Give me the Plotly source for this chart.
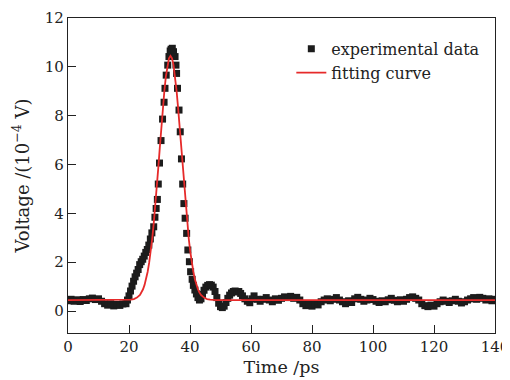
import plotly.graph_objects as go

# experimental data (time in ps, voltage in 1e-4 V)
exp_t = [0, 1, 2, 3, 4, 5, 6, 7, 8, 9, 10, 11, 12, 13, 14, 15, 16, 17, 18, 19,
         19.5, 20, 20.5, 21, 21.5, 22, 22.5, 23, 23.5, 24, 24.5, 25, 25.5, 26, 26.5, 27, 27.5,
         28.1, 28.5, 28.9, 29.3, 29.6, 30.0, 30.5, 31.0, 31.5, 31.8, 32.2, 32.7, 33.1, 33.5, 33.8,
         34.2, 34.6, 35.1, 35.4, 35.6, 35.9, 36.4, 36.8, 37.2, 37.6, 38.0, 38.4, 38.9, 39.3, 39.8,
         40.2, 40.7, 41.1, 41.6, 42.1, 42.6, 43.1, 43.6, 44.1, 44.6, 45.2, 45.8, 46.4, 47.0, 47.6,
         48.2, 48.8, 49.4, 50.0, 50.6, 51.2, 51.8, 52.4, 53.0, 53.6, 54.2, 54.8, 55.4, 56.0, 56.6,
         57.2, 58.0, 58.8, 59.6, 60.4, 61, 62,
         63, 64, 65, 66, 67, 68, 69, 70, 71, 72, 73, 74, 75, 76, 77, 78, 79, 80, 81, 82,
         83, 84, 85, 86, 87, 88, 89, 90, 91, 92, 93, 94, 95, 96, 97, 98, 99, 100, 101, 102,
         103, 104, 105, 106, 107, 108, 109, 110, 111, 112, 113, 114, 115, 116, 117, 118, 119, 120,
         121, 122, 123, 124, 125, 126, 127, 128, 129, 130, 131, 132, 133, 134, 135, 136, 137, 138,
         139, 140]
exp_v = [0.42, 0.48, 0.40, 0.46, 0.39, 0.47, 0.43, 0.50, 0.53, 0.47, 0.50, 0.40, 0.30, 0.24, 0.30,
         0.21, 0.27, 0.23, 0.29, 0.30,
         0.45, 0.62, 0.82, 1.02, 1.22, 1.40, 1.55, 1.70, 1.90, 2.02, 2.12, 2.25, 2.40, 2.52, 2.70,
         2.95, 3.20,
         3.45, 3.84, 4.20, 4.57, 5.20, 6.06, 6.98, 7.86, 8.55, 9.12, 9.66, 10.07, 10.42, 10.65, 10.72,
         10.76, 10.62, 10.42, 10.07, 9.73, 9.12, 8.23, 7.34, 6.23, 5.20, 4.40, 3.80, 3.18, 2.50, 2.02,
         1.61, 1.30, 1.05, 0.86, 0.70, 0.55, 0.45, 0.50, 0.68, 0.85, 0.98, 1.05, 1.08, 1.06, 0.98,
         0.80, 0.55, 0.32, 0.18, 0.14, 0.20, 0.35, 0.52, 0.65, 0.74, 0.80, 0.82, 0.78, 0.80, 0.72,
         0.62, 0.50, 0.40, 0.34, 0.50, 0.62, 0.48,
         0.40, 0.48, 0.55, 0.45, 0.38, 0.50, 0.44, 0.52, 0.58, 0.55, 0.60, 0.52, 0.56, 0.45, 0.30,
         0.22, 0.28, 0.20, 0.30, 0.25,
         0.38, 0.45, 0.50, 0.42, 0.48, 0.55, 0.45, 0.38, 0.30, 0.42, 0.35, 0.50, 0.56, 0.48, 0.40,
         0.45, 0.52, 0.47, 0.40, 0.35,
         0.42, 0.38, 0.46, 0.52, 0.44, 0.38, 0.46, 0.40, 0.48, 0.55, 0.58, 0.52, 0.45, 0.30, 0.22,
         0.18, 0.24, 0.20,
         0.30, 0.38, 0.45, 0.40, 0.35, 0.42, 0.48, 0.40, 0.33, 0.38, 0.45, 0.50, 0.55, 0.48, 0.56,
         0.52, 0.45, 0.50,
         0.42, 0.48]

# fitting curve
fit_t = [0, 18.6, 19.6, 20.6, 21.6, 22.6, 23.6, 24.1, 24.6, 25.1, 25.6, 26.1, 26.6, 27.1, 27.6,
         28.1, 28.6, 29.1, 29.6, 30.1, 30.6, 31.1, 31.6, 32.1, 32.6, 33.1, 33.6, 34.1, 34.6, 35.1,
         35.6, 36.1, 36.6, 37.1, 37.6, 38.1, 38.6, 39.1, 39.6, 40.1, 40.6, 41.1, 41.6, 42.1, 42.6,
         43.1, 43.6, 44.6, 45.6, 46.6, 47.6, 48.6, 140]
fit_v = [0.45, 0.45, 0.455, 0.465, 0.49, 0.55, 0.66, 0.76, 0.89, 1.07, 1.30, 1.60, 1.97, 2.42, 2.95,
         3.58, 4.27, 5.04, 5.86, 6.69, 7.53, 8.31, 9.02, 9.62, 10.07, 10.35, 10.45, 10.35, 10.07, 9.62,
         9.02, 8.31, 7.53, 6.69, 5.86, 5.04, 4.27, 3.58, 2.95, 2.42, 1.97, 1.60, 1.30, 1.07, 0.89,
         0.76, 0.66, 0.55, 0.49, 0.465, 0.455, 0.45, 0.45]

x_ticks = [0, 20, 40, 60, 80, 100, 120, 140]
y_ticks = [0, 2, 4, 6, 8, 10, 12]

FONT = "DejaVu Serif"

fig = go.Figure()
fig.add_trace(go.Scatter(
    x=exp_t, y=exp_v, mode="markers", name="experimental data",
    marker=dict(symbol="square", size=7, color="#1c1c1c", line=dict(width=0)),
))
fig.add_trace(go.Scatter(
    x=fit_t, y=fit_v, mode="lines", name="fitting curve",
    line=dict(color="#e62a2a", width=1.8),
))

axis_common = dict(
    showline=True, linecolor="#222", linewidth=1.3, mirror=True,
    ticks="inside", ticklen=8, tickwidth=1.2, tickcolor="#222",
    showgrid=False, zeroline=False, automargin=False,
    ticklabeloverflow="allow",
    tickfont=dict(family=FONT, size=15, color="#222"),
)

fig.update_xaxes(range=[0, 140], tickvals=x_ticks,
                 title=dict(text="Time /ps", font=dict(family=FONT, size=17.5, color="#222"), standoff=5),
                 **axis_common)
fig.update_yaxes(range=[-0.9, 12], tickvals=y_ticks,
                 title=dict(text="Voltage /(10<sup>\u22124</sup> V)", font=dict(family=FONT, size=18, color="#222"), standoff=10),
                 **axis_common)

# the page body adds an 8px offset, so the figure is sized to fill the rest of the window
fig.update_layout(
    width=502, height=372,
    margin=dict(l=60, r=15, t=10, b=47),
    paper_bgcolor="white", plot_bgcolor="white",
    showlegend=True,
    legend=dict(x=0.523, y=0.956, xanchor="left", yanchor="top",
                bgcolor="rgba(0,0,0,0)", borderwidth=0,
                font=dict(family=FONT, size=16, color="#222"),
                tracegroupgap=0),
)

fig.write_html("out.html")
